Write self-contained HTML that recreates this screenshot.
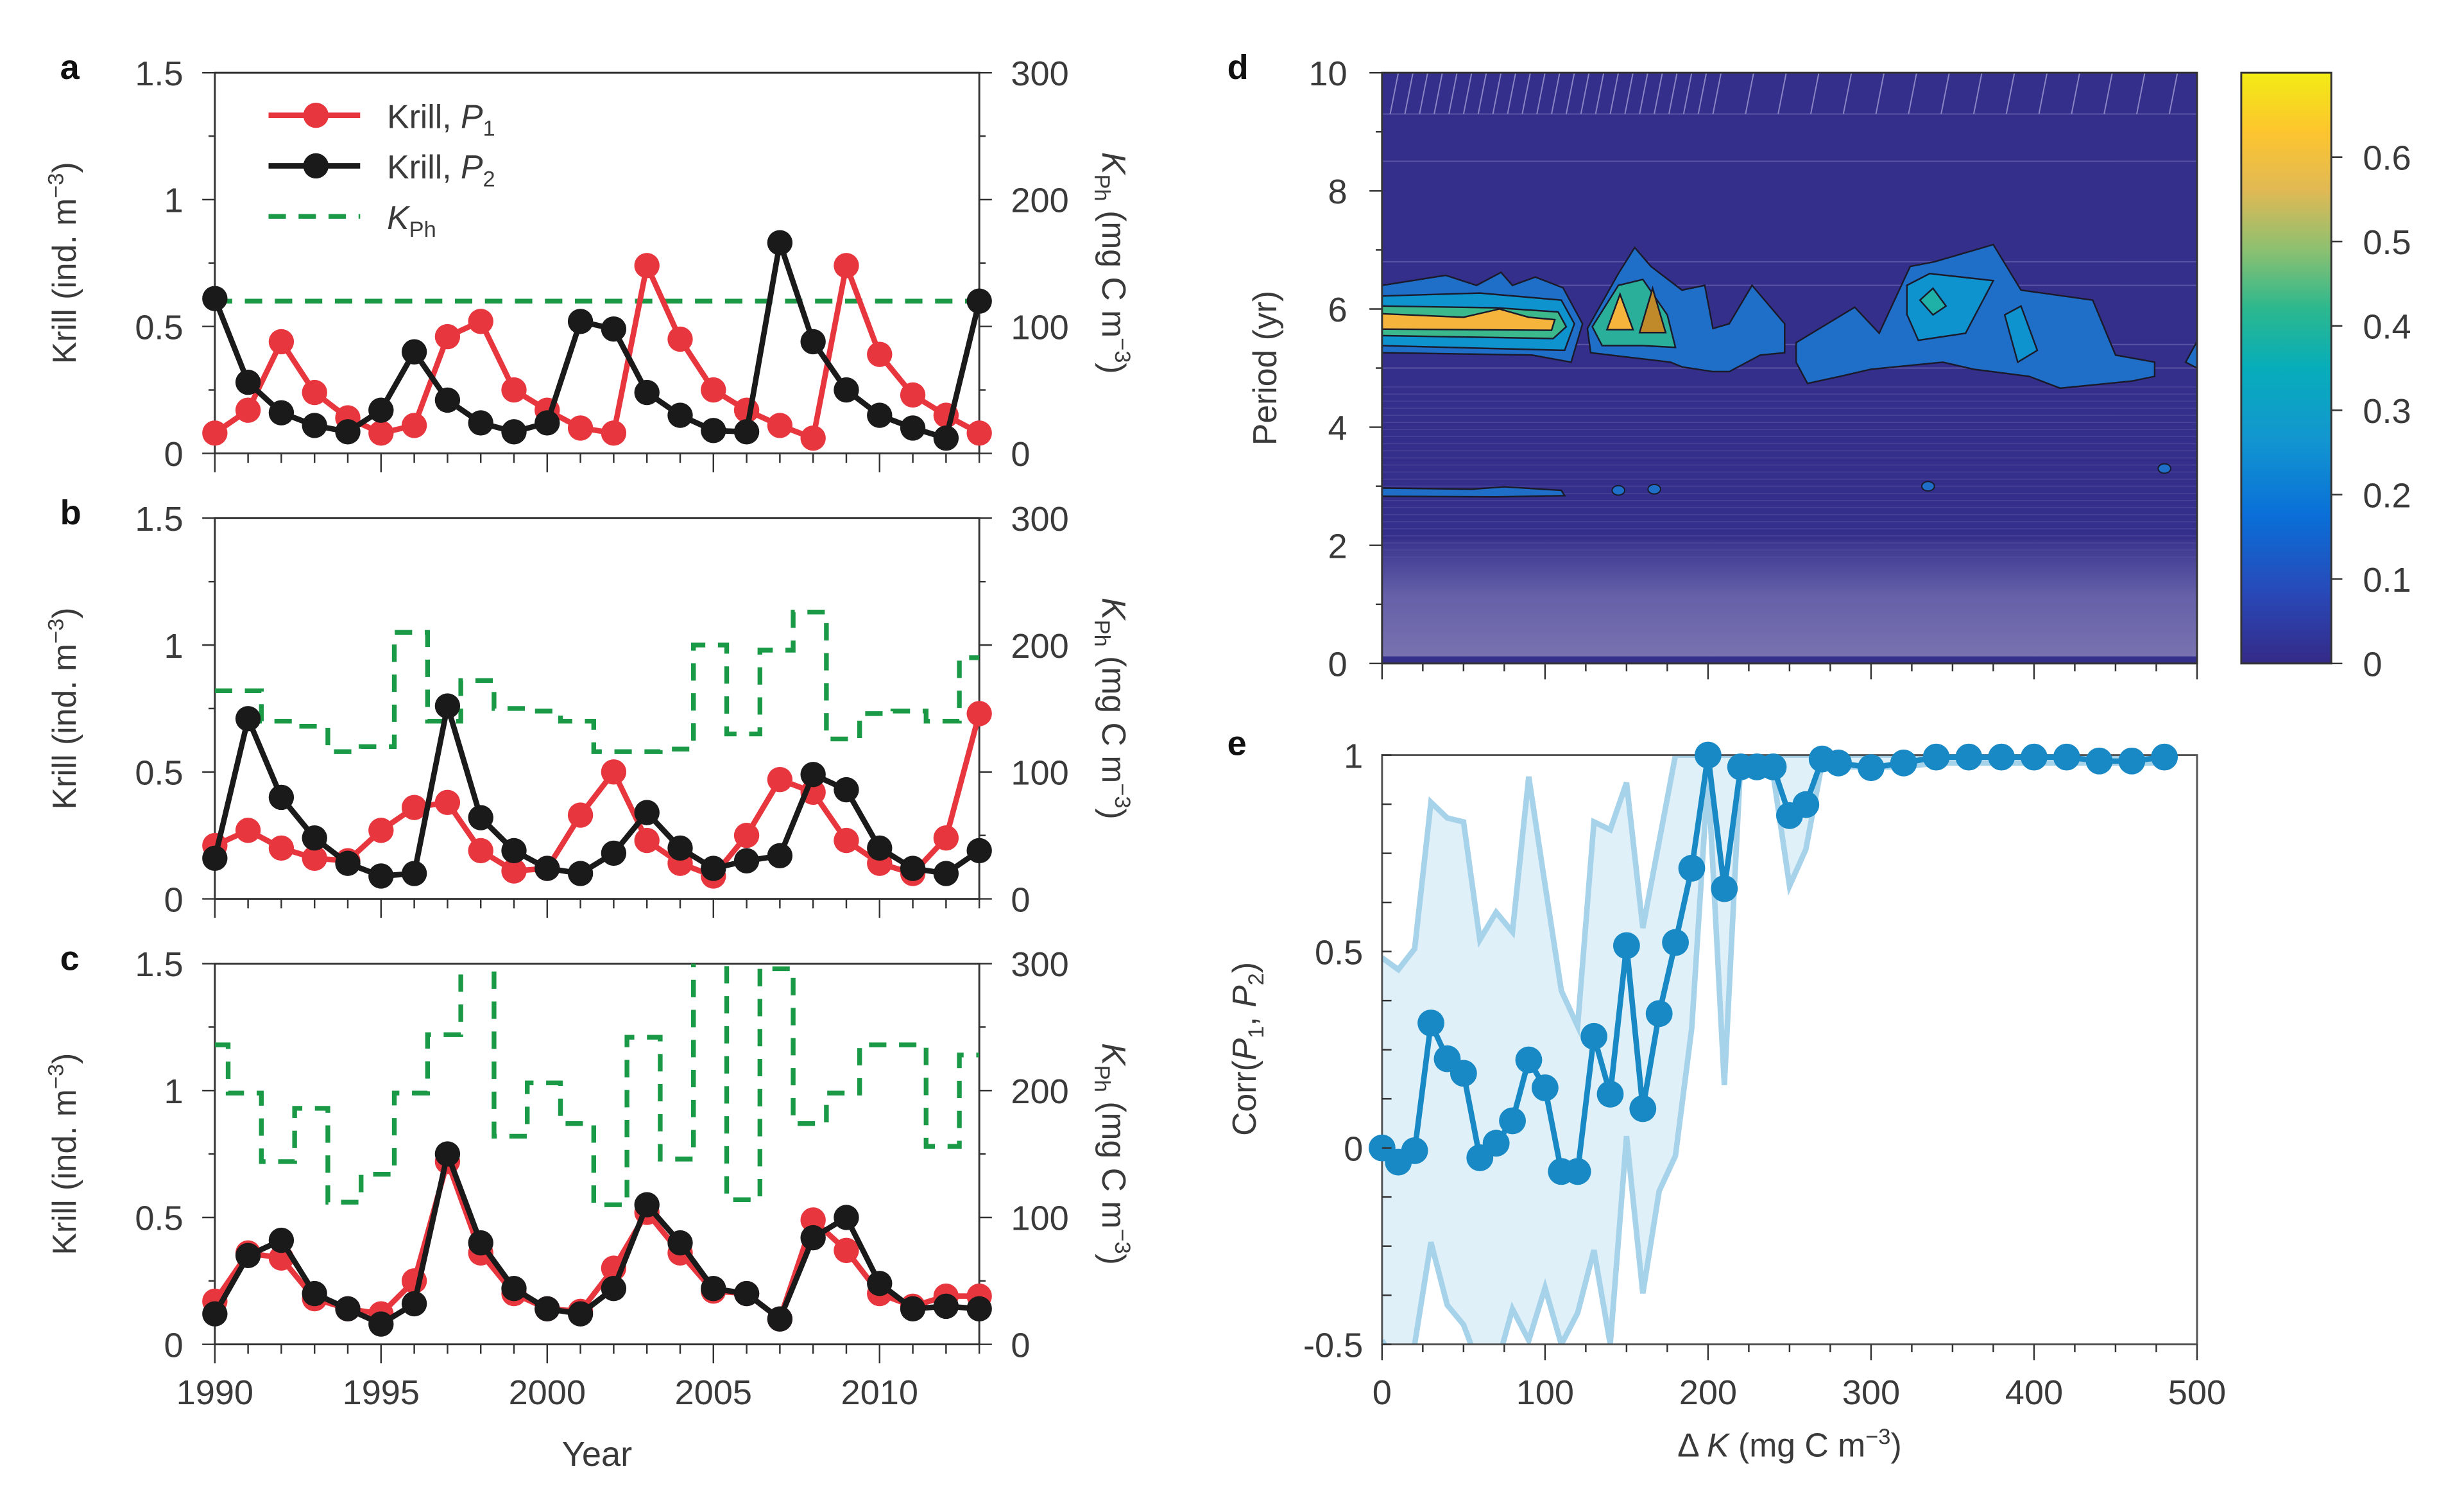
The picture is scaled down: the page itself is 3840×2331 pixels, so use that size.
<!DOCTYPE html>
<html><head><meta charset="utf-8"><style>
html,body{margin:0;padding:0;background:#fff;}
svg{display:block;font-family:"Liberation Sans",sans-serif;}
</style></head><body>
<svg id="fig" width="3840" height="2331" viewBox="0 0 1560 947" xmlns="http://www.w3.org/2000/svg">
<defs>
<linearGradient id="parula" x1="0" y1="1" x2="0" y2="0">
<stop offset="0" stop-color="#352a87"/><stop offset="0.12" stop-color="#2849b8"/>
<stop offset="0.25" stop-color="#0a6fd8"/><stop offset="0.38" stop-color="#1296d0"/>
<stop offset="0.5" stop-color="#07adba"/><stop offset="0.6" stop-color="#2bb88e"/>
<stop offset="0.7" stop-color="#8cc070"/><stop offset="0.8" stop-color="#e0b955"/>
<stop offset="0.9" stop-color="#fdc52e"/><stop offset="1" stop-color="#f2ec14"/>
</linearGradient>
<linearGradient id="dbottom" x1="0" y1="0" x2="0" y2="1">
<stop offset="0" stop-color="#3a348e"/><stop offset="0.45" stop-color="#6560a8"/><stop offset="1" stop-color="#7a74b0"/>
</linearGradient>
<clipPath id="clipA"><rect x="136" y="46" width="484" height="241"/></clipPath>
<clipPath id="clipB"><rect x="136" y="328" width="484" height="241"/></clipPath>
<clipPath id="clipC"><rect x="136" y="610" width="484" height="241"/></clipPath>
<clipPath id="clipE"><rect x="875" y="478" width="516" height="373"/></clipPath>
<clipPath id="clipD"><rect x="875" y="46" width="516" height="374"/></clipPath>
</defs>
<g id="root"></g>
</svg>
<script>
// ---------- data ----------
const years = [1990,1991,1992,1993,1994,1995,1996,1997,1998,1999,2000,2001,2002,2003,2004,2005,2006,2007,2008,2009,2010,2011,2012,2013];
const aP1 = [0.08,0.17,0.44,0.24,0.14,0.08,0.11,0.46,0.52,0.25,0.17,0.10,0.08,0.74,0.45,0.25,0.17,0.11,0.06,0.74,0.39,0.23,0.15,0.08];
const aP2 = [0.61,0.28,0.16,0.11,0.085,0.17,0.40,0.21,0.12,0.085,0.12,0.52,0.49,0.24,0.15,0.09,0.085,0.83,0.44,0.25,0.15,0.10,0.06,0.60];
const aK  = [120,120,120,120,120,120,120,120,120,120,120,120,120,120,120,120,120,120,120,120,120,120,120,120];
const bP1 = [0.21,0.27,0.20,0.16,0.15,0.27,0.36,0.38,0.19,0.11,0.12,0.33,0.50,0.23,0.14,0.09,0.25,0.47,0.42,0.23,0.14,0.10,0.24,0.73];
const bP2 = [0.16,0.71,0.40,0.24,0.14,0.09,0.10,0.76,0.32,0.19,0.12,0.10,0.18,0.34,0.20,0.12,0.15,0.17,0.49,0.43,0.20,0.12,0.10,0.19];
const bK  = [164,164,140,136,116,120,210,140,172,150,148,140,116,116,118,200,130,196,226,126,146,148,140,190];
const cP1 = [0.17,0.36,0.34,0.18,0.14,0.12,0.25,0.72,0.36,0.20,0.14,0.13,0.30,0.52,0.36,0.21,0.20,0.10,0.49,0.37,0.20,0.15,0.19,0.19];
const cP2 = [0.12,0.35,0.41,0.20,0.14,0.08,0.16,0.75,0.40,0.22,0.14,0.12,0.22,0.55,0.40,0.22,0.20,0.10,0.42,0.50,0.24,0.14,0.15,0.14];
const cK  = [236,198,144,186,112,134,198,244,320,164,206,174,110,242,146,320,114,296,174,198,236,236,156,228];
const krillTicks = ["0","0.5","1","1.5"];
const kphTicks = ["0","100","200","300"];
const yearTicks = ["1990","1995","2000","2005","2010"];

const eK    = [0,10,20,30,40,50,60,70,80,90,100,110,120,130,140,150,160,170,180,190,200,210,220,230,240,250,260,270,280,300,320,340,360,380,400,420,440,460,480];
const eCorr = [0,-0.036,-0.007,0.318,0.227,0.19,-0.025,0.012,0.069,0.224,0.153,-0.06,-0.06,0.284,0.137,0.515,0.10,0.342,0.523,0.712,1.0,0.66,0.97,0.97,0.97,0.846,0.874,0.99,0.98,0.968,0.98,0.995,0.995,0.995,0.995,0.995,0.985,0.985,0.995];
const eUpper= [0.484,0.454,0.507,0.88,0.84,0.83,0.53,0.60,0.55,0.945,0.67,0.40,0.31,0.83,0.81,0.93,0.56,0.78,1.0,1.0,1.0,1.0,1.0,1.0,1.0,1.0,1.0,1.0,1.0,1.0,1.0,1.0,1.0,1.0,1.0,1.0,1.0,1.0,1.0];
const eLower= [-0.49,-0.56,-0.5,-0.24,-0.40,-0.45,-0.56,-0.56,-0.41,-0.49,-0.356,-0.5,-0.42,-0.26,-0.5,0.03,-0.37,-0.11,-0.02,0.305,0.95,0.16,0.98,0.98,0.95,0.667,0.76,0.98,0.97,0.97,0.97,0.98,0.98,0.98,0.98,0.98,0.98,0.98,0.98];
const eXTicks = ["0","100","200","300","400","500"];
const eYTicks = ["-0.5","0","0.5","1"];
const dYTicks = ["0","2","4","6","8","10"];
const cbTicks = ["0","0.1","0.2","0.3","0.4","0.5","0.6"];

// wavelet power contours [deltaK, period]
const blobA1 = [[0,6.4],[39,6.57],[58,6.4],[73,6.62],[80,6.4],[94,6.54],[111,6.36],[123,5.75],[116,5.1],[92,5.22],[0,5.26]];
const blobA2 = [[0,6.22],[60,6.27],[110,6.15],[118,5.75],[112,5.3],[0,5.38]];
const blobA3 = [[0,6.05],[70,6.02],[108,5.95],[113,5.7],[105,5.5],[0,5.55]];
const blobA4 = [[0,5.92],[50,5.86],[72,6.0],[90,5.86],[106,5.82],[104,5.64],[0,5.66]];
const blobB1 = [[126,5.67],[145,6.6],[155,7.04],[165,6.72],[184,6.32],[198,6.4],[203,5.67],[213,5.75],[227,6.4],[247,5.75],[247,5.26],[232,5.22],[213,4.94],[203,4.94],[184,5.02],[177,5.1],[140,5.22],[128,5.26]];
const blobB2 = [[129,5.7],[145,6.4],[160,6.5],[175,5.9],[180,5.35],[160,5.38],[135,5.38]];
const blobB3 = [[138,5.65],[146,6.25],[154,5.65]];
const blobB4 = [[158,5.6],[166,6.35],[174,5.6]];
const blobC1 = [[254,5.43],[290,6.03],[305,5.59],[324,6.72],[339,6.8],[375,7.09],[392,6.32],[436,6.15],[450,5.22],[474,5.1],[474,4.86],[460,4.78],[416,4.66],[397,4.86],[363,4.98],[344,5.1],[300,4.98],[281,4.86],[261,4.74],[254,5.1]];
const blobC2 = [[322,6.4],[336,6.6],[375,6.48],[358,5.59],[329,5.47],[322,5.91]];
const blobC3 = [[330,6.15],[338,6.35],[346,6.05],[338,5.9]];
const blobC4 = [[382,5.9],[392,6.05],[402,5.3],[390,5.1]];
const blobC5 = [[493,5.1],[500,5.45],[500,5.0]];
const blobP3 = [[0,2.97],[55,2.95],[75,2.99],[110,2.93],[112,2.84],[70,2.82],[0,2.83]];
const dotsK = [145,167,335,480];
const dotsP = [2.93,2.95,3.0,3.3];

// ---------- helpers ----------
const NS="http://www.w3.org/2000/svg";
const root=document.getElementById('root');
function mk(tag,attrs,parent){const e=document.createElementNS(NS,tag);for(const k in attrs)e.setAttribute(k,attrs[k]);(parent||root).appendChild(e);return e;}
function txt(s,x,y,size,anchor,parent,extra){const t=mk('text',Object.assign({x:x,y:y,'font-size':size,'text-anchor':anchor||'middle',fill:'#3a3a3a'},extra||{}),parent);t.textContent=s;return t;}

const X0=136,X1=620,H=241;
const xYear=y=>X0+(y-1990)*(X1-X0)/23;

function panel(top,letter,P1,P2,K,clip,showYears){
  const g=mk('g',{});
  
  
  const kr=v=>top+H-v/1.5*H, kp=v=>top+H-v/300*H;
  // axes box
  const ax=mk('path',{d:`M${X0},${top}H${X1}V${top+H}H${X0}Z`,fill:'none',stroke:'#333','stroke-width':1.2},g);
  
  
  // left ticks
  for(let v=0;v<=1.5001;v+=0.25){const major=Math.abs(v*2-Math.round(v*2))<1e-6;mk('line',{x1:X0-(major?8:4),x2:X0,y1:kr(v),y2:kr(v),stroke:'#333','stroke-width':1},g);}
  krillTicks.forEach(s=>{const t=txt(s,X0-20,kr(parseFloat(s))+8,22,'end',g);});
  for(let v=0;v<=300;v+=50){const major=v%100===0;mk('line',{x1:X1,x2:X1+(major?8:4),y1:kp(v),y2:kp(v),stroke:'#333','stroke-width':1},g);}
  kphTicks.forEach(s=>{const t=txt(s,X1+20,kp(parseFloat(s))+8,22,'start',g);});
  for(let y=1990;y<=2013;y++){const major=y%5===0;mk('line',{x1:xYear(y),x2:xYear(y),y1:top+H,y2:top+H+(major?12:6),stroke:'#333','stroke-width':1},g);}
  if(showYears){yearTicks.forEach(s=>{const t=txt(s,xYear(+s),top+H+38,22,'middle',g);});}
  // titles
  const yl=txt('',48,top+H/2,21,'middle',g,{transform:`rotate(-90 48 ${top+H/2})`});
  yl.innerHTML='Krill (ind. m<tspan dy="-8" font-size="14">−3</tspan><tspan dy="8">)</tspan>';
  
  const rx=698;
  const yr=txt('',rx,top+H/2,21,'middle',g,{transform:`rotate(90 ${rx} ${top+H/2})`});
  yr.innerHTML='<tspan font-style="italic">K</tspan><tspan dy="5" font-size="14">Ph</tspan><tspan dy="-5"> (mg C m</tspan><tspan dy="-8" font-size="14">−3</tspan><tspan dy="8">)</tspan>';
  
  const L=txt(letter,38,top+4,22,'start',g,{'font-weight':'bold',fill:'#111'});
  
  // data group
  const dg=mk('g',{'clip-path':`url(#${clip})`},g);
  // K step
  let d='';
  years.forEach((y,i)=>{const a=Math.max(1990,y-0.6),b=Math.min(2013,y+0.4);d+=(i===0?'M':'L')+xYear(a)+','+kp(K[i])+'L'+xYear(b)+','+kp(K[i]);});
  const kl=mk('path',{d:d,fill:'none',stroke:'#1a9a46','stroke-width':3,'stroke-dasharray':'11,8'},dg);
  
  [[P1,'#e8363f','p1'],[P2,'#1a1a1a','p2']].forEach(([arr,col,nm])=>{
    const pl=mk('polyline',{points:arr.map((v,i)=>xYear(years[i])+','+kr(v)).join(' '),fill:'none',stroke:col,'stroke-width':3.5},g);
    
    arr.forEach((v,i)=>{const c=mk('circle',{cx:xYear(years[i]),cy:kr(v),r:8,fill:col},g);
      });
  });
}
panel(46,'a',aP1,aP2,aK,'clipA',false);
panel(328,'b',bP1,bP2,bK,'clipB',false);
panel(610,'c',cP1,cP2,cK,'clipC',true);
{const t=txt('Year',378,928,22,'middle');}

// legend in panel a
{
 const lg=mk('g',{});
 
 const e1=mk('line',{x1:170,x2:228,y1:73,y2:73,stroke:'#e8363f','stroke-width':3.5},lg);mk('circle',{cx:200,cy:73,r:8,fill:'#e8363f'},lg);
 
 let t=txt('',245,81,21,'start',lg);t.innerHTML='Krill, <tspan font-style="italic">P</tspan><tspan dy="5" font-size="14">1</tspan>';
 
 const e2=mk('line',{x1:170,x2:228,y1:105,y2:105,stroke:'#1a1a1a','stroke-width':3.5},lg);mk('circle',{cx:200,cy:105,r:8,fill:'#1a1a1a'},lg);
 
 t=txt('',245,113,21,'start',lg);t.innerHTML='Krill, <tspan font-style="italic">P</tspan><tspan dy="5" font-size="14">2</tspan>';
 
 const e3=mk('line',{x1:170,x2:228,y1:137,y2:137,stroke:'#1a9a46','stroke-width':3,'stroke-dasharray':'11,8'},lg);
 
 t=txt('',245,145,21,'start',lg);t.innerHTML='<tspan font-style="italic">K</tspan><tspan dy="5" font-size="14">Ph</tspan>';
 
}

// ---------- panel d ----------
const DX0=875,DX1=1391,DT=46,DB=420;
const dx=u=>DX0+u/500*(DX1-DX0), dy=p=>DB-p/10*(DB-DT);
{
 const g=mk('g',{});
 
 const hg=mk('g',{'clip-path':'url(#clipD)'},g);
 const bg=mk('rect',{x:DX0,y:DT,width:DX1-DX0,height:DB-DT,fill:'#352f8c'},hg);
 
 mk('rect',{x:DX0,y:dy(2.1),width:DX1-DX0,height:DB-dy(2.1),fill:'url(#dbottom)'},hg);
 mk('rect',{x:DX0,y:dy(0.12),width:DX1-DX0,height:dy(0)-dy(0.12),fill:'#352f8c'},hg);
 for(let p=1.8;p<4.8;p+=0.12){mk('line',{x1:DX0,x2:DX1,y1:dy(p),y2:dy(p),stroke:'#5550a0','stroke-width':0.6,opacity:0.6},hg);}
 [5.0,5.4,6.4,6.8,8.5,9.3].forEach(p=>mk('line',{x1:DX0,x2:DX1,y1:dy(p),y2:dy(p),stroke:'#6a66b0','stroke-width':0.8,opacity:0.7},hg));
 for(let u=5;u<500;u+=(u<200?9:20)){mk('line',{x1:dx(u),y1:dy(9.3),x2:dx(u+5),y2:dy(10),stroke:'#8a86c4','stroke-width':0.8},hg);}
 function poly(pts,fill,name){const p=mk('polygon',{points:pts.map(q=>dx(q[0])+','+dy(q[1])).join(' '),fill:fill,stroke:'#1a1a2a','stroke-width':1},hg);
   }
 poly(blobA1,'#1f6fc8','contour-a-01');
 poly(blobA2,'#0f93cf','contour-a-02');
 poly(blobA3,'#3cb98c','contour-a-03');
 poly(blobA4,'#f5b43c','contour-a-04');
 poly(blobB1,'#1f6fc8','contour-b-01');
 poly(blobB2,'#2ab09a','contour-b-02');
 poly(blobB3,'#f5b43c','contour-b-03');
 poly(blobB4,'#c08a2a','contour-b-04');
 poly(blobC1,'#1f6fc8','contour-c-01');
 poly(blobC2,'#0f93cf','contour-c-02');
 poly(blobC3,'#1fb0a8','contour-c-03');
 poly(blobC4,'#0f93cf','contour-c-04');
 poly(blobC5,'#1f6fc8','contour-c-05');
 poly(blobP3,'#1f6fc8','contour-3yr');
 dotsK.forEach((k,i)=>{const c=mk('ellipse',{cx:dx(k),cy:dy(dotsP[i]),rx:4,ry:3,fill:'#1f6fc8',stroke:'#1a1a2a','stroke-width':0.8},hg);
   });
 const fr=mk('rect',{x:DX0,y:DT,width:DX1-DX0,height:DB-DT,fill:'none',stroke:'#333','stroke-width':1.2},g);
 
 for(let p=0;p<=10;p+=1){mk('line',{x1:DX0-(p%2===0?8:4),x2:DX0,y1:dy(p),y2:dy(p),stroke:'#333','stroke-width':1},g);}
 dYTicks.forEach(s=>{const t=txt(s,DX0-22,dy(+s)+8,22,'end',g);});
 for(let u=0;u<=500;u+=25){mk('line',{x1:dx(u),x2:dx(u),y1:DB,y2:DB+(u%100===0?10:5),stroke:'#333','stroke-width':1},g);}
 const yt=txt('Period (yr)',808,233,21,'middle',g,{transform:'rotate(-90 808 233)'});
 
 const L=txt('d',777,50,22,'start',g,{'font-weight':'bold',fill:'#111'});
 
 // colorbar
 const cb=mk('rect',{x:1419,y:46,width:57,height:374,fill:'url(#parula)',stroke:'#333','stroke-width':1.2},g);
 
 const cy=v=>420-v/0.7*374;
 cbTicks.forEach(s=>{mk('line',{x1:1476,x2:1483,y1:cy(+s),y2:cy(+s),stroke:'#333','stroke-width':1},g);
   const t=txt(s,1496,cy(+s)+8,22,'start',g);});
}

// ---------- panel e ----------
const EX0=875,EX1=1391,ET=478,EB=851;
const ex=u=>EX0+u/500*(EX1-EX0), ey=v=>ET+(1-v)/1.5*(EB-ET);
{
 const g=mk('g',{});
 
 const cg=mk('g',{'clip-path':'url(#clipE)'},g);
 const band=mk('polygon',{points:eK.map((k,i)=>ex(k)+','+ey(eUpper[i])).concat(eK.map((k,i)=>ex(k)+','+ey(eLower[i])).reverse()).join(' '),fill:'#dff0f8'},cg);
 
 const up=mk('polyline',{points:eK.map((k,i)=>ex(k)+','+ey(eUpper[i])).join(' '),fill:'none',stroke:'#a6d2ea','stroke-width':3.5},cg);
 
 const lo=mk('polyline',{points:eK.map((k,i)=>ex(k)+','+ey(eLower[i])).join(' '),fill:'none',stroke:'#a6d2ea','stroke-width':3.5},cg);
 
 const fr=mk('rect',{x:EX0,y:ET,width:EX1-EX0,height:EB-ET,fill:'none',stroke:'#555','stroke-width':1.2},g);
 
 const ml=mk('polyline',{points:eK.map((k,i)=>ex(k)+','+ey(eCorr[i])).join(' '),fill:'none',stroke:'#1889c4','stroke-width':3.5},g);
 
 eK.forEach((k,i)=>{const c=mk('circle',{cx:ex(k),cy:ey(eCorr[i]),r:8.5,fill:'#1889c4'},g);
   });
 for(let v=-0.5;v<=1.0001;v+=0.125){mk('line',{x1:EX0,x2:EX0+6,y1:ey(v),y2:ey(v),stroke:'#333','stroke-width':1},g);}
 eYTicks.forEach(s=>{const t=txt(s,EX0-12,ey(+s)+8,22,'end',g);});
 for(let u=0;u<=500;u+=25){mk('line',{x1:ex(u),x2:ex(u),y1:EB,y2:EB+(u%100===0?10:5),stroke:'#333','stroke-width':1},g);}
 eXTicks.forEach(s=>{const t=txt(s,ex(+s),EB+38,22,'middle',g);});
 const xt=txt('',1133,922,21,'middle',g);xt.innerHTML='Δ <tspan font-style="italic">K</tspan> (mg C m<tspan dy="-8" font-size="14">−3</tspan><tspan dy="8">)</tspan>';
 
 const yt=txt('',795,664,21,'middle',g,{transform:'rotate(-90 795 664)'});
 yt.innerHTML='Corr(<tspan font-style="italic">P</tspan><tspan dy="5" font-size="14">1</tspan><tspan dy="-5">, </tspan><tspan font-style="italic">P</tspan><tspan dy="5" font-size="14">2</tspan><tspan dy="-5">)</tspan>';
 
 const L=txt('e',777,478,22,'start',g,{'font-weight':'bold',fill:'#111'});
 
}
</script>
</body></html>
